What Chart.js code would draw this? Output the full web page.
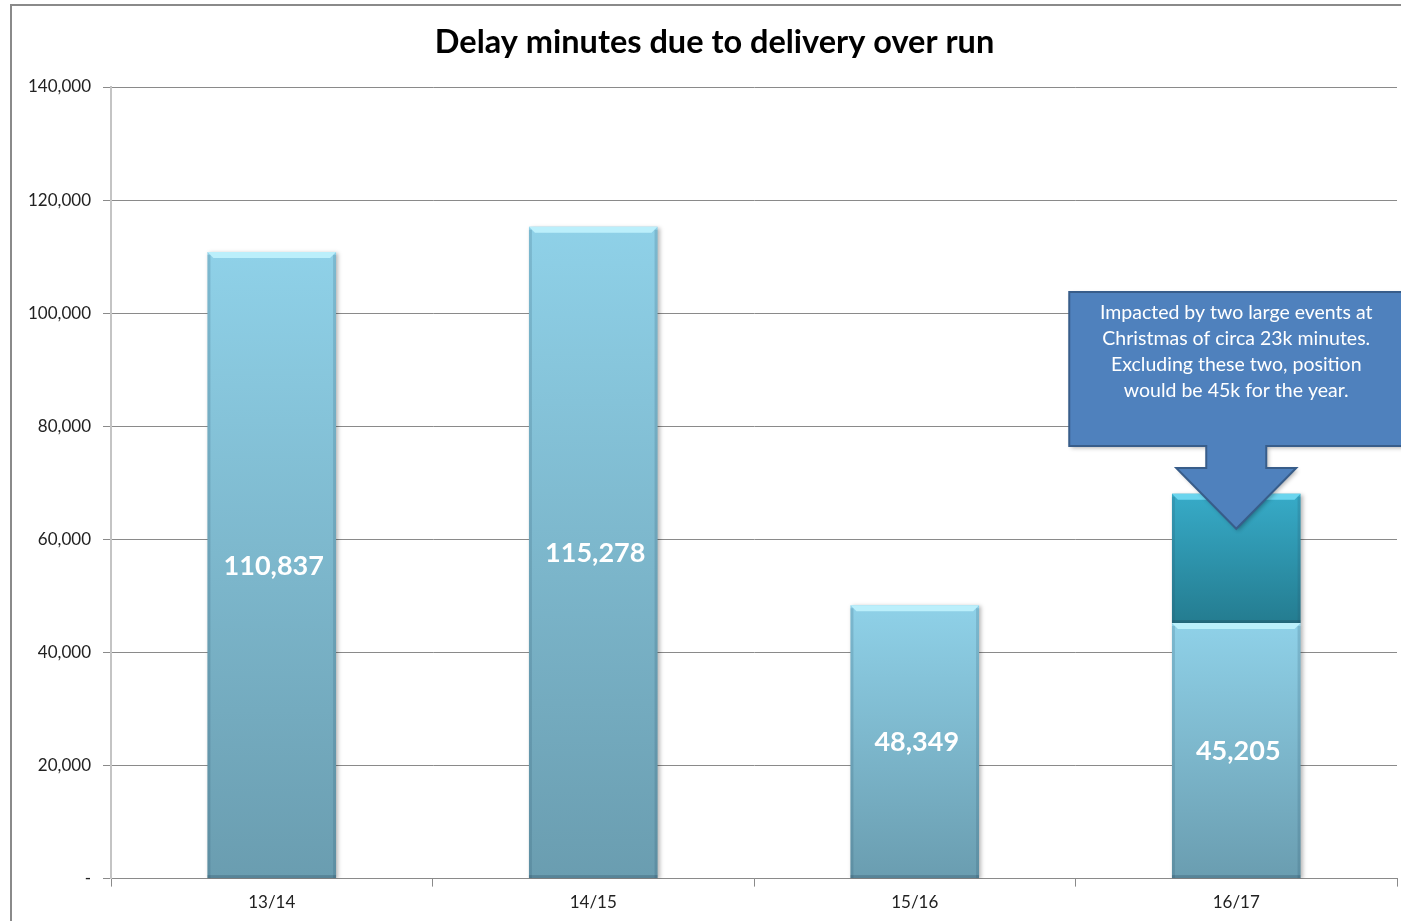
<!DOCTYPE html>
<html>
<head>
<meta charset="utf-8">
<title>Delay minutes due to delivery over run</title>
<script src="https://cdn.jsdelivr.net/npm/chart.js@4"></script>
<style>
  html, body { margin: 0; padding: 0; background: #fff; }
  #wrap { width: 1401px; height: 921px; }
</style>
</head>
<body>
<div id="wrap"><canvas id="graficaDelay"></canvas></div>
<script>
// Datos de la grafica
var years = ['13/14', '14/15', '15/16', '16/17'];
var baseMinutes = [110837, 115278, 48349, 45205];
var eventMinutes = [0, 0, 0, 22850];
var yTicks = [0, 20000, 40000, 60000, 80000, 100000, 120000, 140000];
var noteLines = [
    'Impacted by two large events at',
    'Christmas of circa 23k minutes.',
    'Excluding these two, position',
    'would be 45k for the year.'
];

var FONT = 'Lato, Calibri, sans-serif';

// gradiente por barra, de arriba hacia abajo
function barGradient(ctx, topColor, bottomColor) {
    var chart = ctx.chart;
    if (!chart.chartArea || !chart.scales.y) return topColor;
    var ds = chart.data.datasets;
    var i = ctx.dataIndex;
    var start = 0;
    for (var d = 0; d < ctx.datasetIndex; d++) start += ds[d].data[i];
    var end = start + ds[ctx.datasetIndex].data[i];
    var y = chart.scales.y;
    var yTop = y.getPixelForValue(end);
    var yBot = y.getPixelForValue(start);
    if (!isFinite(yTop) || !isFinite(yBot) || yTop === yBot) return topColor;
    var g = chart.ctx.createLinearGradient(0, yTop, 0, yBot);
    g.addColorStop(0, topColor);
    g.addColorStop(1, bottomColor);
    return g;
}

// Fondo y marco
var framePlugin = {
    id: 'frame',
    afterLayout: function(chart) {
        // el titulo va un poco a la derecha, como en el original
        if (chart.titleBlock) {
            chart.titleBlock.left += 11;
            chart.titleBlock.right += 11;
        }
    },
    beforeDraw: function(chart) {
        var c = chart.ctx;
        c.save();
        c.fillStyle = '#ffffff';
        c.fillRect(0, 0, chart.width, chart.height);
        c.strokeStyle = '#8a8a8a';
        c.lineWidth = 2;
        c.beginPath();
        c.moveTo(11, chart.height);
        c.lineTo(11, 5);
        c.lineTo(chart.width, 5);
        c.stroke();
        c.restore();
    }
};

// sombra y bisel de las barras
var bevelPlugin = {
    id: 'bevel',
    beforeDatasetsDraw: function(chart) {
        var c = chart.ctx;
        c.save();
        c.shadowColor = 'rgba(0,0,0,0.28)';
        c.shadowBlur = 4;
        c.shadowOffsetX = 2;
        c.shadowOffsetY = 1;
    },
    afterDatasetsDraw: function(chart) {
        var c = chart.ctx;
        c.restore();
        c.save();
        chart.data.datasets.forEach(function(ds, di) {
            chart.getDatasetMeta(di).data.forEach(function(bar, i) {
                if (!ds.data[i]) return;
                var l = bar.x - bar.width / 2, r = bar.x + bar.width / 2;
                var t = bar.y, b = bar.base;
                // borde superior claro
                c.fillStyle = di === 0 ? 'rgba(190,240,252,0.95)' : 'rgba(110,215,240,0.95)';
                c.beginPath();
                c.moveTo(l, t);
                c.lineTo(r, t);
                c.lineTo(r - 6, t + 6);
                c.lineTo(l + 6, t + 6);
                c.closePath();
                c.fill();
                // lados
                c.fillStyle = 'rgba(40,80,100,0.18)';
                c.fillRect(l, t + 3, 3, b - t - 3);
                c.fillRect(r - 3, t + 3, 3, b - t - 3);
                c.fillStyle = 'rgba(30,60,80,0.25)';
                c.fillRect(l, b - 3, r - l, 3);
            });
        });
        // etiquetas de valor
        c.fillStyle = '#ffffff';
        c.font = 'bold 27px ' + FONT;
        c.textAlign = 'center';
        c.textBaseline = 'middle';
        chart.getDatasetMeta(0).data.forEach(function(bar, i) {
            c.fillText(baseMinutes[i].toLocaleString('en-US'), bar.x + 2, (bar.y + bar.base) / 2 + 1);
        });
        c.restore();
    }
};

// nota con flecha sobre 16/17
var calloutPlugin = {
    id: 'callout',
    afterDraw: function(chart) {
        var meta = chart.getDatasetMeta(1);
        var bar = meta.data[3];
        if (!bar) return;
        var c = chart.ctx;
        var cx = bar.x;
        var boxL = cx - 167, boxR = chart.width + 20, boxT = 292, boxB = 446;
        var stemW = 30, headW = 60, headT = 468, tipY = bar.y + 35;
        c.save();
        c.shadowColor = 'rgba(0,0,0,0.3)';
        c.shadowBlur = 4;
        c.shadowOffsetX = 2;
        c.shadowOffsetY = 2;
        c.fillStyle = '#4f81bd';
        c.strokeStyle = '#385d8a';
        c.lineWidth = 2;
        c.beginPath();
        c.moveTo(boxL, boxT);
        c.lineTo(boxR, boxT);
        c.lineTo(boxR, boxB);
        c.lineTo(cx + stemW, boxB);
        c.lineTo(cx + stemW, headT);
        c.lineTo(cx + headW, headT);
        c.lineTo(cx, tipY);
        c.lineTo(cx - headW, headT);
        c.lineTo(cx - stemW, headT);
        c.lineTo(cx - stemW, boxB);
        c.lineTo(boxL, boxB);
        c.closePath();
        c.fill();
        c.shadowColor = 'transparent';
        c.stroke();
        c.fillStyle = '#ffffff';
        c.font = '19.5px ' + FONT;
        c.textAlign = 'center';
        c.textBaseline = 'middle';
        noteLines.forEach(function(line, k) {
            c.fillText(line, cx, 313 + k * 26);
        });
        c.restore();
    }
};

var config = {
    type: 'bar',
    data: {
        labels: years,
        datasets: [{
            label: 'Delay minutes',
            data: baseMinutes,
            backgroundColor: function(ctx) { return barGradient(ctx, '#8fd1e8', '#6a9db0'); },
            borderWidth: 0,
            barPercentage: 0.8,
            categoryPercentage: 0.5
        }, {
            label: 'Large events',
            data: eventMinutes,
            backgroundColor: function(ctx) { return barGradient(ctx, '#37abc8', '#247c90'); },
            borderWidth: 0,
            barPercentage: 0.8,
            categoryPercentage: 0.5
        }]
    },
    options: {
        responsive: true,
        maintainAspectRatio: false,
        animation: false,
        layout: { padding: { left: 10, right: 4, top: 0, bottom: 2 } },
        plugins: {
            legend: { display: false },
            tooltip: { enabled: false },
            title: {
                display: true,
                text: 'Delay minutes due to delivery over run',
                color: '#000000',
                font: { family: FONT, size: 32.5, weight: 'bold' },
                padding: { top: 23, bottom: 25 }
            }
        },
        scales: {
            x: {
                stacked: true,
                grid: {
                    drawOnChartArea: false,
                    drawTicks: true,
                    tickLength: 8,
                    color: '#8a8a8a',
                    offset: true
                },
                border: { color: '#8a8a8a', width: 1 },
                ticks: {
                    color: '#222222',
                    font: { family: FONT, size: 17 },
                    padding: 6
                }
            },
            y: {
                stacked: true,
                min: 0,
                max: 140000,
                afterBuildTicks: function(scale) {
                    scale.ticks = yTicks.map(function(v) { return { value: v }; });
                },
                afterFit: function(scale) { scale.width = 101; },
                grid: {
                    color: '#8a8a8a',
                    tickLength: 8
                },
                border: { color: '#c4c4c4', width: 2 },
                ticks: {
                    color: '#222222',
                    font: { family: FONT, size: 17 },
                    padding: 12,
                    callback: function(v) { return v === 0 ? '-' : v.toLocaleString('en-US'); }
                }
            }
        }
    },
    plugins: [framePlugin, bevelPlugin, calloutPlugin]
};

window.onload = function() {
    var ctx = document.getElementById('graficaDelay').getContext('2d');
    window.myBar = new Chart(ctx, config);
};
</script>
</body>
</html>
